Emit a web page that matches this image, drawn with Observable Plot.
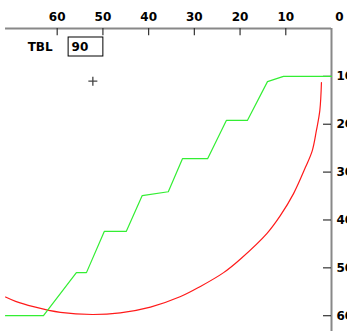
<!DOCTYPE html>
<html>
<head>
<meta charset="utf-8">
<script src="https://cdn.jsdelivr.net/npm/d3@7"></script>
<script src="https://cdn.jsdelivr.net/npm/@observablehq/plot@0.6"></script>
<style>
  html, body { margin: 0; padding: 0; background: #fff; }
  #chart svg { display: block; }
</style>
</head>
<body>
<div id="chart"></div>
<script>
// ---- data ----
const xTicks = [60, 50, 40, 30, 20, 10];
const yTicks = [10, 20, 30, 40, 50, 60];

const greenX = [71.3, 63.0, 55.8, 53.6, 49.7, 44.9, 41.4, 35.7, 32.6, 27.1, 23.0, 18.4, 14.0, 10.5, 0];
const greenY = [60.0, 60.0, 51.0, 51.0, 42.4, 42.4, 34.9, 34.1, 27.2, 27.2, 19.2, 19.2, 11.1, 10.0, 10.0];

const redX = [71.3, 69.1, 65.2, 59.3, 52.3, 46.2, 39.6, 33.0, 28.7, 23.6, 19.9, 14.1, 11.2, 8.3, 5.7, 4.2, 3.3, 2.55, 2.2];
const redY = [56.1, 57.0, 58.1, 59.3, 59.75, 59.4, 58.2, 56.0, 53.9, 51.0, 48.15, 42.8, 39.1, 34.5, 29.0, 25.5, 21.3, 17.1, 11.3];

const cursorX = [52.2];
const cursorY = [11.0];

const tblLabel = "TBL";
const tblValue = "90";
const tblBoxX = [57.5, 49.9];
const tblBoxY = [1.88, 5.85];

// ---- build ----
const green = greenX.map((x, i) => ({x, y: greenY[i]}));
const red = redX.map((x, i) => ({x, y: redY[i]}));
const cursor = cursorX.map((x, i) => ({x, y: cursorY[i]}));
const box = [{x1: tblBoxX[0], x2: tblBoxX[1], y1: tblBoxY[0], y2: tblBoxY[1]}];

const plusSymbol = {
  draw(ctx, size) {
    const r = Math.sqrt(size / Math.PI);
    ctx.moveTo(-r, 0); ctx.lineTo(r, 0);
    ctx.moveTo(0, -r); ctx.lineTo(0, r);
  }
};

const font = "DejaVu Sans, sans-serif";

const chart = Plot.plot({
  width: 347,
  height: 331,
  marginLeft: 0,
  marginRight: 16,
  marginTop: 28,
  marginBottom: 0,
  x: {domain: [72.4, 0], axis: null},
  y: {domain: [0, 63.3], reverse: true, axis: null},
  style: {background: "#fff", fontFamily: font, fontSize: "12px", overflow: "hidden"},
  marks: [
    // axis lines
    Plot.ruleY([0], {x1: greenX[0], x2: 0, stroke: "#888", strokeWidth: 2}),
    Plot.ruleX([0], {stroke: "#888", strokeWidth: 2}),
    // x ticks (pointing down) and labels above
    Plot.ruleX(xTicks, {x: d => d, y1: 0, y2: 1.5, stroke: "#333", strokeWidth: 1.2}),
    Plot.text(xTicks, {x: d => d, y: 0, dy: -11, text: d => String(d), fontWeight: "bold", fill: "#000"}),
    Plot.text([0], {x: d => d, y: 0, dy: -11, dx: 8, text: d => String(d), fontWeight: "bold", fill: "#000"}),
    // y ticks (pointing left) and labels right
    Plot.ruleY(yTicks, {y: d => d, x1: 1.75, x2: 0, stroke: "#333", strokeWidth: 1.2}),
    Plot.text(yTicks, {x: 0, y: d => d, dx: 5, textAnchor: "start", text: d => String(d), fontWeight: "bold", fill: "#000"}),
    // TBL box
    Plot.rect(box, {x1: "x1", x2: "x2", y1: "y1", y2: "y2", fill: "#fff", stroke: "#000", strokeWidth: 1}),
    Plot.text(box, {x: "x1", y: d => (d.y1 + d.y2) / 2, dx: 3, textAnchor: "start", text: () => tblValue, fontWeight: "bold", fill: "#000"}),
    Plot.text(box, {x: "x1", y: d => (d.y1 + d.y2) / 2, dx: -16, textAnchor: "end", text: () => tblLabel, fontWeight: "bold", fill: "#000"}),
    // cursor
    Plot.dot(cursor, {x: "x", y: "y", symbol: plusSymbol, r: 4.5, fill: "none", stroke: "#444", strokeWidth: 1.3}),
    // curves
    Plot.line(red, {x: "x", y: "y", stroke: "#ff1a1a", strokeWidth: 1.2, curve: "catmull-rom"}),
    Plot.line(green, {x: "x", y: "y", stroke: "#33ee33", strokeWidth: 1.2, curve: "linear"})
  ]
});

document.getElementById("chart").appendChild(chart);
</script>
</body>
</html>
